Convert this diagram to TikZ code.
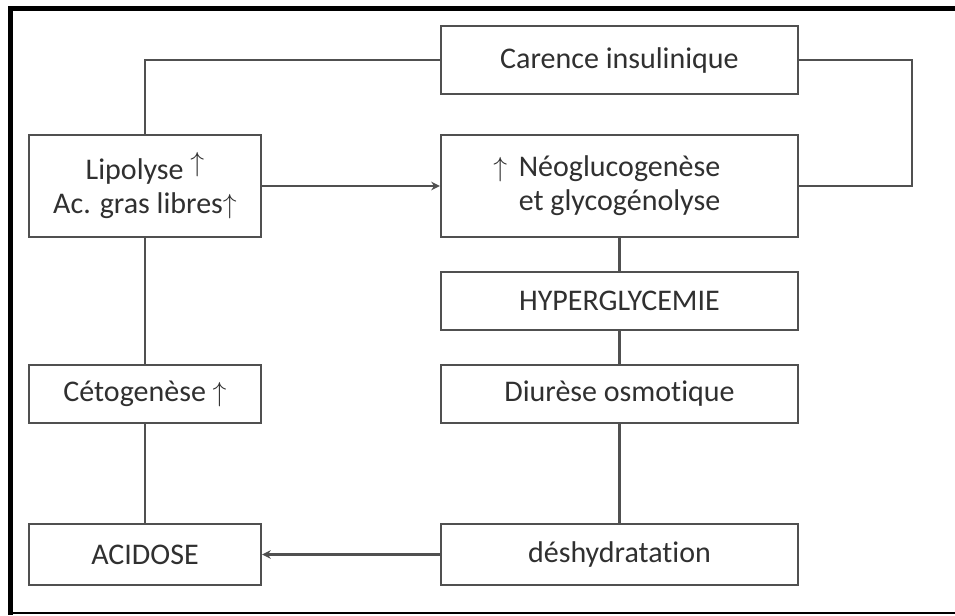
\documentclass[tikz,border=0pt]{standalone}
\usepackage{fontspec}
\setmainfont[Ligatures=NoCommon]{Carlito}
\usetikzlibrary{arrows.meta}
\definecolor{linec}{HTML}{505050}
\definecolor{textc}{HTML}{303030}
\tikzset{
  box/.style={draw=linec,line width=1.7pt,rectangle,inner sep=0pt,text=textc,
    font=\fontsize{22.5}{25.5}\selectfont,align=center},
  lbox/.style={box,minimum width=174pt},
  rbox/.style={box,minimum width=267.75pt},
  conn/.style={draw=linec,line width=1.7pt},
  arr/.style={conn,-{Stealth[length=6.5pt,width=6.5pt]}},
  frameline/.style={fill=black}
}
\begin{document}
\begin{tikzpicture}[x=0.75pt,y=-0.75pt]
\useasboundingbox (0,0) rectangle (955,615);
\fill[white] (0,0) rectangle (955,615);
% frame
\fill[frameline] (8,6) rectangle (955,11);
\fill[frameline] (8,6) rectangle (13,615);
\fill[frameline] (8,612) rectangle (955,614);
% boxes
\node[rbox,minimum height=51pt] (car) at (619.5,60) {Carence insulinique};
\node[lbox,minimum height=76.5pt] (lip) at (145,186) {Lipolyse \raisebox{6pt}{$\uparrow$}\\Ac. gras libres$\uparrow$};
\node[rbox,minimum height=76.5pt,align=left] (neo) at (619.5,186) {\llap{$\uparrow$\ \,}Néoglucogenèse\\et glycogénolyse};
\node[rbox,minimum height=43.5pt] (hyp) at (619.5,301) {HYPERGLYCEMIE};
\node[rbox,minimum height=43.5pt] (diu) at (619.5,394) {Diurèse osmotique};
\node[lbox,minimum height=43.5pt] (ceto) at (145,394) {Cétogenèse $\uparrow$};
\node[rbox,minimum height=45.75pt] (des) at (619.5,554.5) {déshydratation};
\node[lbox,minimum height=45.75pt] (aci) at (145,554.5) {ACIDOSE};
% connectors
\coordinate (rt) at (912,60);
\draw[conn] (car.west) -| (lip.north);
\draw[conn] (car.east) -- (rt) |- (neo.east);
\draw[arr] (lip.east) -- (neo.west);
\draw[conn] (neo.south) -- (hyp.north);
\draw[conn] (hyp.south) -- (diu.north);
\draw[conn] (diu.south) -- (des.north);
\draw[arr] (des.west) -- (aci.east);
\draw[conn] (lip.south) -- (ceto.north);
\draw[conn] (ceto.south) -- (aci.north);
\end{tikzpicture}
\end{document}
